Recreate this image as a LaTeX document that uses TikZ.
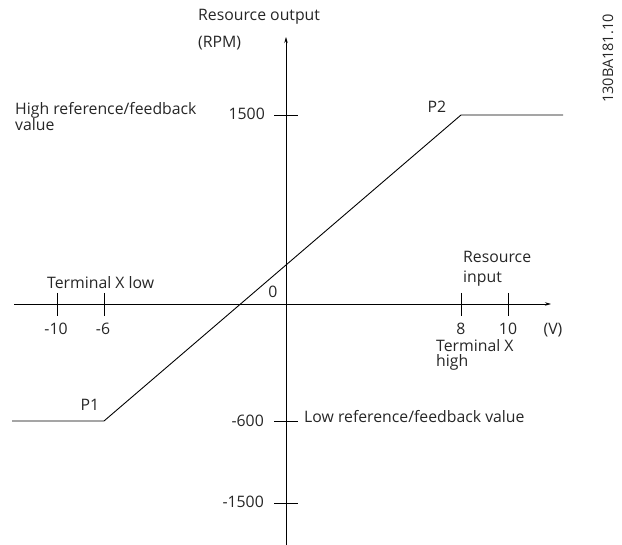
\documentclass[tikz,border=0pt]{standalone}
\usepackage{fontspec}
\setmainfont{Open Sans}
\usetikzlibrary{arrows.meta}
\begin{document}
\begin{tikzpicture}[x=1pt,y=-1pt,
  lbl/.style={inner sep=0pt,font=\fontsize{15.8}{16}\selectfont,text=black!85},
  ax/.style={line width=0.8pt,-{Stealth[length=6pt,width=3.5pt]}},
  tk/.style={line width=0.8pt},
  crv/.style={line width=0.9pt}]
\useasboundingbox (0,0) rectangle (622,545);
% axes
\coordinate (yb) at (286,545);
\coordinate (yt) at (286,37);
\coordinate (xl) at (14,304);
\coordinate (xr) at (551,304);
\draw[ax] (yb) -- (yt);
\draw[ax] (xl) -- (xr);
% x ticks
\foreach \n/\x in {m10/57,m6/104,p8/461,p10/508}{
  \coordinate (t\n a) at (\x,293);
  \coordinate (t\n b) at (\x,316);
  \draw[tk] (t\n a) -- (t\n b);
}
% y ticks
\foreach \n/\y in {hi/115,lo/421,mn/503}{
  \coordinate (s\n a) at (274,\y);
  \coordinate (s\n b) at (298,\y);
  \draw[tk] (s\n a) -- (s\n b);
}
% curve
\coordinate (c0) at (12,421);
\coordinate (P1) at (104,421);
\coordinate (P2) at (461,115);
\coordinate (c3) at (563,115);
\draw[crv] (c0) -- (P1) -- (P2) -- (c3);
% labels
\node[lbl,anchor=base west] (ro) at (198,21) {Resource output};
\node[lbl,anchor=base west] (rpm) at (198,48) {(RPM)};
\node[lbl,anchor=base west] (hr1) at (15,115) {High reference/feedback};
\node[lbl,anchor=base west] (hr2) at (15,131) {value};
\node[lbl,anchor=base east] (v1500) at (265,120) {1500};
\node[lbl,anchor=base] (p2l) at (437,113) {P2};
\node[lbl,anchor=base] (p1l) at (90,411) {P1};
\node[lbl,anchor=base west] (txl) at (47,289) {Terminal X low};
\node[lbl,anchor=base] (zero) at (273,298) {0};
\node[lbl,anchor=base] (lm10) at (56,335) {-10};
\node[lbl,anchor=base] (lm6) at (103,335) {-6};
\node[lbl,anchor=base west] (ri1) at (463,263) {Resource};
\node[lbl,anchor=base west] (ri2) at (463,283) {input};
\node[lbl,anchor=base] (lp8) at (461,335) {8};
\node[lbl,anchor=base] (lp10) at (508,335) {10};
\node[lbl,anchor=base] (lv) at (553,335) {(V)};
\node[lbl,anchor=base west] (txh1) at (436,352) {Terminal X};
\node[lbl,anchor=base west] (txh2) at (436,367) {high};
\node[lbl,anchor=base east] (v600) at (264,427) {-600};
\node[lbl,anchor=base west] (lr) at (304,423) {Low reference/feedback value};
\node[lbl,anchor=base east] (v1500m) at (264,508) {-1500};
\node[lbl,anchor=base west,rotate=90,font=\fontsize{14.5}{15}\selectfont] (code) at (613,103) {130BA181.10};
\end{tikzpicture}
\end{document}
